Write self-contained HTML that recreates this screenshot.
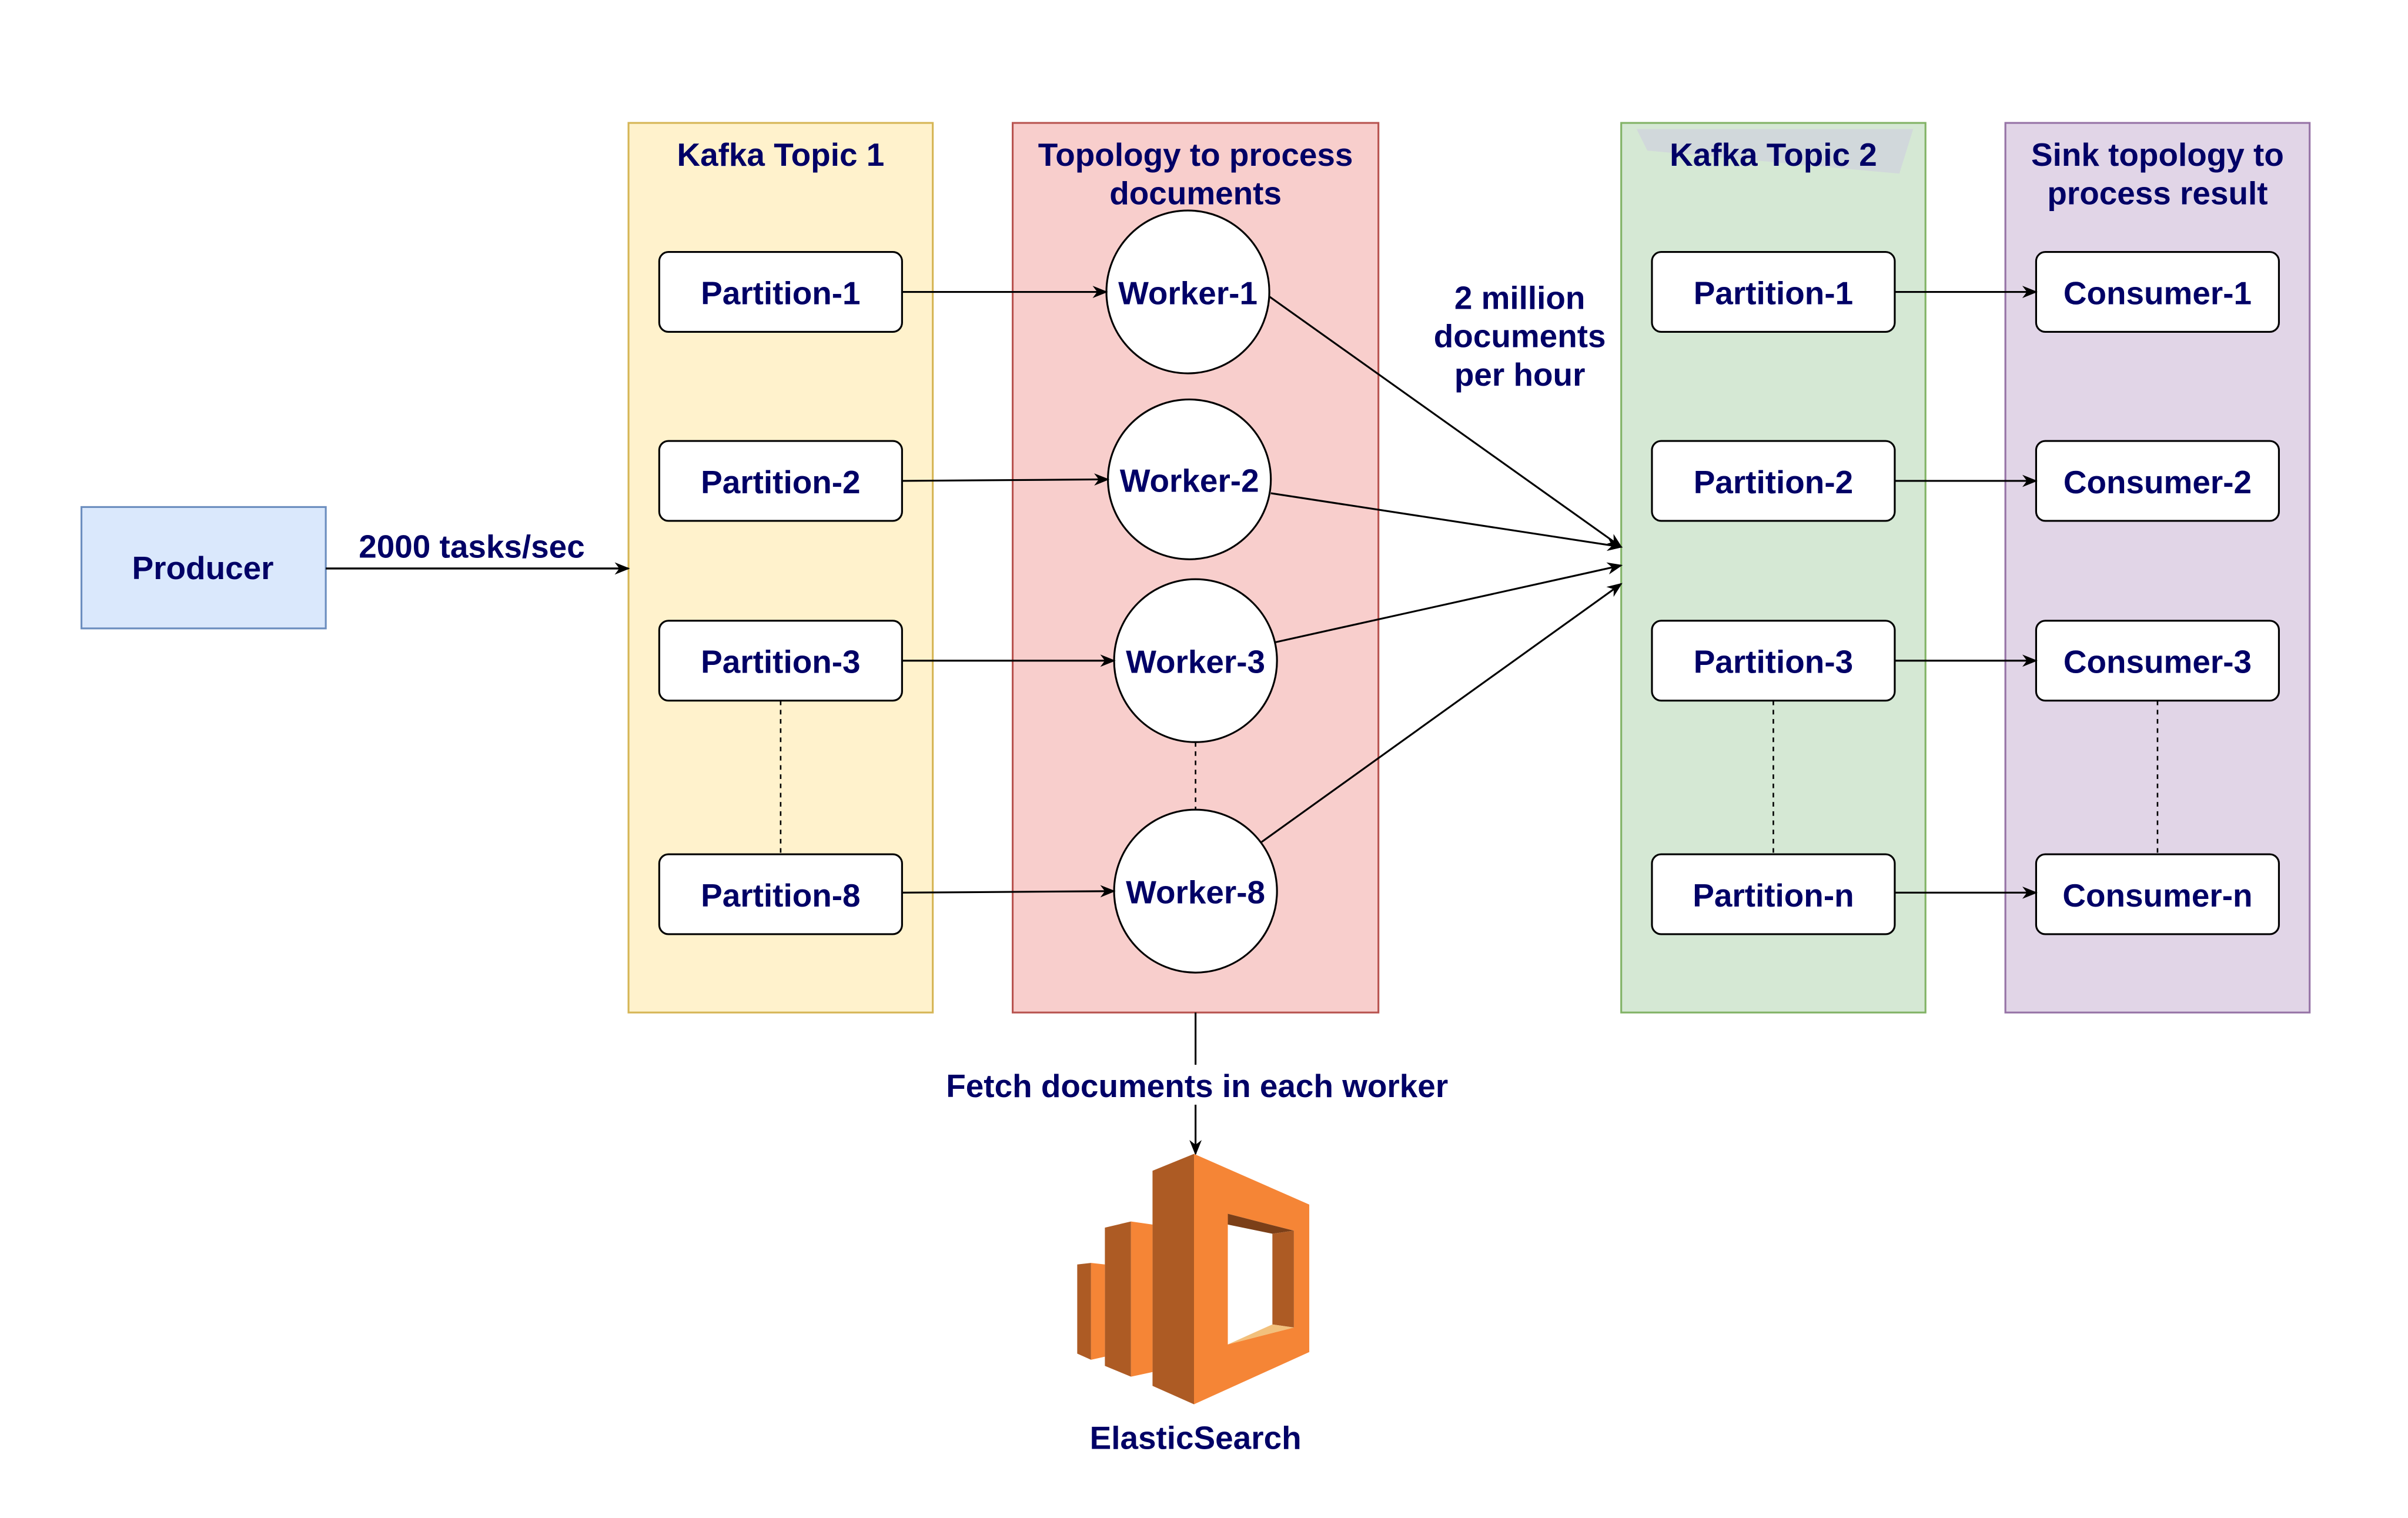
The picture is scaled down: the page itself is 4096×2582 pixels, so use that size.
<!DOCTYPE html>
<html><head><meta charset="utf-8"><style>html,body{margin:0;padding:0;background:#fff}svg{display:block}text{font-family:"Liberation Sans",sans-serif;font-weight:bold;fill:#000066;font-size:21px;text-anchor:middle}</style></head>
<body>
<svg width="4096" height="2582" viewBox="0 0 1567 988" preserveAspectRatio="none" xmlns="http://www.w3.org/2000/svg">
<defs><marker id="a" markerWidth="10" markerHeight="10" refX="9" refY="5" orient="auto" markerUnits="userSpaceOnUse"><path d="M0,1 L10,5 L0,9 L3,5 Z" fill="#000"/></marker></defs>
<rect x="409" y="80" width="198" height="579" fill="#fff2cc" stroke="#d6b656" stroke-width="1.2"/>
<rect x="659" y="80" width="238" height="579" fill="#f8cecc" stroke="#b85450" stroke-width="1.2"/>
<rect x="1055" y="80" width="198" height="579" fill="#d5e8d4" stroke="#82b366" stroke-width="1.2"/>
<path d="M1065,84 L1245,84 L1236,113 L1072,98 Z" fill="#cfd3dc" opacity="0.8"/>
<rect x="1305" y="80" width="198" height="579" fill="#e1d5e7" stroke="#9673a6" stroke-width="1.2"/>
<text x="508" y="108">Kafka Topic 1</text>
<text x="778" y="108">Topology to process</text>
<text x="778" y="133">documents</text>
<text x="1154" y="108">Kafka Topic 2</text>
<text x="1404" y="108">Sink topology to</text>
<text x="1404" y="133">process result</text>
<rect x="53" y="330" width="159" height="79" fill="#dae8fc" stroke="#6c8ebf" stroke-width="1.2"/>
<text x="132" y="377">Producer</text>
<line x1="212" y1="370" x2="409" y2="370" stroke="#000" stroke-width="1.3" marker-end="url(#a)"/>
<text x="307" y="363">2000 tasks/sec</text>
<g stroke="#000" stroke-width="1" stroke-dasharray="3,3">
<line x1="508" y1="456" x2="508" y2="556"/><line x1="778" y1="483" x2="778" y2="527"/>
<line x1="1154" y1="456" x2="1154" y2="556"/><line x1="1404" y1="456" x2="1404" y2="556"/></g>
<g fill="#fff" stroke="#000" stroke-width="1.2">
<rect x="429" y="164" width="158" height="52" rx="6"/><rect x="429" y="287" width="158" height="52" rx="6"/>
<rect x="429" y="404" width="158" height="52" rx="6"/><rect x="429" y="556" width="158" height="52" rx="6"/>
<rect x="1075" y="164" width="158" height="52" rx="6"/><rect x="1075" y="287" width="158" height="52" rx="6"/>
<rect x="1075" y="404" width="158" height="52" rx="6"/><rect x="1075" y="556" width="158" height="52" rx="6"/>
<rect x="1325" y="164" width="158" height="52" rx="6"/><rect x="1325" y="287" width="158" height="52" rx="6"/>
<rect x="1325" y="404" width="158" height="52" rx="6"/><rect x="1325" y="556" width="158" height="52" rx="6"/>
<ellipse cx="773" cy="190" rx="53" ry="53"/><ellipse cx="774" cy="312" rx="53" ry="52"/>
<ellipse cx="778" cy="430" rx="53" ry="53"/><ellipse cx="778" cy="580" rx="53" ry="53"/>
</g>
<text x="508" y="198">Partition-1</text><text x="508" y="321">Partition-2</text>
<text x="508" y="438">Partition-3</text><text x="508" y="590">Partition-8</text>
<text x="1154" y="198">Partition-1</text><text x="1154" y="321">Partition-2</text>
<text x="1154" y="438">Partition-3</text><text x="1154" y="590">Partition-n</text>
<text x="1404" y="198">Consumer-1</text><text x="1404" y="321">Consumer-2</text>
<text x="1404" y="438">Consumer-3</text><text x="1404" y="590">Consumer-n</text>
<text x="773" y="198">Worker-1</text><text x="774" y="320">Worker-2</text>
<text x="778" y="438">Worker-3</text><text x="778" y="588">Worker-8</text>
<g stroke="#000" stroke-width="1.2" fill="none" marker-end="url(#a)">
<line x1="587" y1="190" x2="720" y2="190"/><line x1="587" y1="313" x2="721" y2="312"/>
<line x1="587" y1="430" x2="725" y2="430"/><line x1="587" y1="581" x2="725" y2="580"/>
<line x1="826" y1="193" x2="1055" y2="356"/><line x1="827" y1="321" x2="1055" y2="356"/>
<line x1="830" y1="418" x2="1055" y2="368"/><line x1="821" y1="548" x2="1055" y2="380"/>
<line x1="1233" y1="190" x2="1325" y2="190"/><line x1="1233" y1="313" x2="1325" y2="313"/>
<line x1="1233" y1="430" x2="1325" y2="430"/><line x1="1233" y1="581" x2="1325" y2="581"/>
<line x1="778" y1="659" x2="778" y2="751"/>
</g>
<text x="989" y="201">2 million</text><text x="989" y="226">documents</text><text x="989" y="251">per hour</text>
<rect x="610" y="693" width="338" height="26" fill="#fff"/>
<text x="779" y="714">Fetch documents in each worker</text>
<g transform="translate(2,3)">
<path d="M748,759 L775,748 L775,911 L748,899 Z" fill="#ad5b24"/>
<path d="M775,748 L850,781 L850,877 L775,911 Z M797,787 L797,872 L840,861 L840,798 Z" fill="#f58536" fill-rule="evenodd"/>
<path d="M797,787 L840,798 L826,800 L797,794 Z" fill="#7b3f18"/>
<path d="M826,800 L840,798 L840,861 L826,859 Z" fill="#ad5b24"/>
<path d="M797,872 L826,859 L840,861 Z" fill="#f2c07c"/>
<path d="M717,796 L734,792 L734,893 L717,886 Z" fill="#ad5b24"/>
<path d="M734,792 L748,794 L748,890 L734,893 Z" fill="#f58536"/>
<path d="M699,820 L708,819 L708,882 L699,878 Z" fill="#ad5b24"/>
<path d="M708,819 L717,820 L717,880 L708,882 Z" fill="#f58536"/>
</g>
<text x="778" y="943">ElasticSearch</text>
</svg>
</body></html>
